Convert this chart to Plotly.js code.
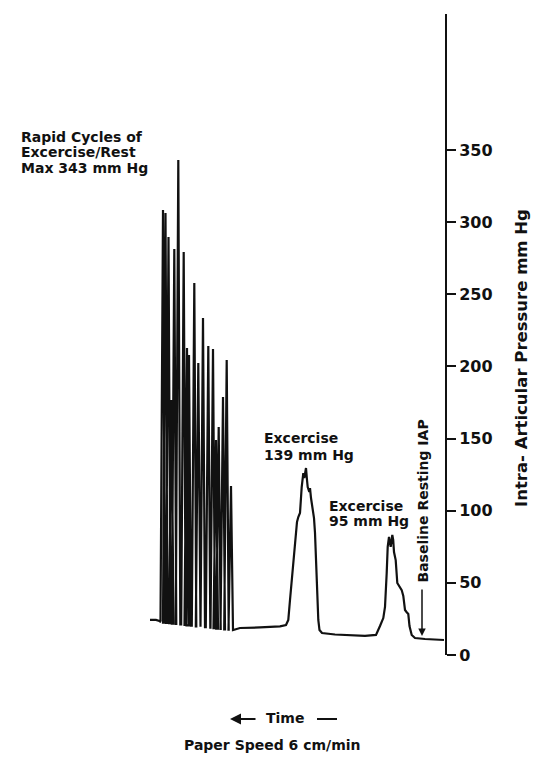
<!DOCTYPE html>
<html><head><meta charset="utf-8">
<script src="https://cdn.plot.ly/plotly-3.0.1.min.js"></script>
<style>html,body{margin:0;padding:0;background:#fff}#chart{width:541px;height:758px}</style>
</head><body><div id="chart"></div>
<script>
// Time axis in chart units (paper distance), 0 = right end (most recent), runs leftwards ("← Time")
// Pressure in mm Hg
const preTime = [295, 289, 284];
const prePressure = [24.3, 24.3, 23.2];

// Rapid cycles of exercise/rest: peak time, peak pressure, pressure it falls back to
const spikeTime   = [282, 279.5, 276.5, 273.5, 270.7, 266.7, 261.3, 258, 256, 250.7, 246.7, 242, 236.7, 232, 229, 226.3, 222, 218.3, 214];
const spikePeak   = [308.4, 306.3, 289.7, 176.7, 281.4, 343, 279.3, 212.8, 207.9, 257.8, 202.4, 233.6, 214.2, 212.1, 149.0, 158.0, 178.8, 204.5, 117.1];
const spikeTrough = [22.5, 22.3, 22.0, 21.8, 21.5, 21.2, 20.8, 20.5, 20.3, 19.9, 19.6, 19.3, 18.9, 18.6, 18.3, 18.1, 17.8, 17.6, 17.3];

// Two exercise bouts and resting baseline
const postTime = [210, 205, 185, 165, 159, 156.7, 155, 153.3, 151.5, 150, 148, 146.7, 145, 143.3, 141.7, 140.7, 140, 139, 138, 137.3, 135.7, 135, 134, 132.3, 131, 130, 129, 127.7, 126.7, 125.5, 123, 110, 95, 80, 69, 66.5, 65, 61.7, 61, 60, 58.3, 57.3, 56, 54.3, 52.7, 51.8, 51, 49.3, 47.7, 45, 43.3, 41.7, 40, 38.5, 36.7, 35.5, 33.3, 30, 20, 1];
const postPressure = [17.7, 18.7, 19.1, 19.8, 20.8, 24.3, 38.1, 52.0, 69.3, 81.8, 92.2, 95.6, 98.4, 116.4, 126.1, 122.7, 126.8, 129.6, 121.3, 116.4, 113.0, 115.7, 108.8, 101.9, 94.9, 84.6, 61.0, 40.2, 24.3, 17.3, 15.2, 14.2, 13.5, 13.2, 13.9, 17.3, 20.1, 25.6, 28.4, 33.3, 56.8, 74.9, 81.8, 74.9, 83.2, 79.7, 71.4, 65.8, 49.9, 46.4, 45.0, 40.9, 31.2, 29.8, 28.4, 20.1, 13.9, 11.8, 11.1, 10.4];

const yTickValues = [0, 50, 100, 150, 200, 250, 300, 350];

// build the continuous recording
const t = [], p = [];
preTime.forEach((v, i) => { t.push(v); p.push(prePressure[i]); });
spikeTime.forEach((v, i) => {
  t.push(v + 2.5); p.push(i ? spikeTrough[i - 1] : prePressure[prePressure.length - 1]);
  t.push(v);       p.push(spikePeak[i]);
  t.push(v - 2);   p.push(spikeTrough[i]);
});
postTime.forEach((v, i) => { t.push(v); p.push(postPressure[i]); });

const INK = '#111';
const FONT = {family: 'DejaVu Sans, sans-serif', size: 14, color: INK, weight: 700};
// page-pixel helpers for text placement (plot area: x 0..445, y 14..655)
const PX = x => x / 445;
const PY = y => (655 - y) / 641;
const txt = (text, x, y, extra) => Object.assign({
  text, xref: 'paper', yref: 'paper', x: PX(x), y: PY(y), showarrow: false,
  font: FONT, xanchor: 'left', yanchor: 'middle'
}, extra || {});

const annotations = [
  txt('Rapid Cycles of', 19, 137),
  txt('Excercise/Rest', 19, 152.5),
  txt('Max 343 mm Hg', 19, 168.5),
  txt('Excercise', 262, 437.5),
  txt('139 mm Hg', 262, 454.7),
  txt('Excercise', 326.5, 505.5),
  txt('95 mm Hg', 326.5, 521.3),
  txt('Baseline Resting IAP', 422.5, 501, {textangle: -90, xanchor: 'center'}),
  {text: '', xref: 'paper', yref: 'paper', x: PX(422), y: PY(636), ax: 0, ay: -48,
   showarrow: true, arrowhead: 2, arrowsize: 1, arrowwidth: 1.5, arrowcolor: INK},
  txt('Intra- Articular Pressure mm Hg', 521, 358, {textangle: -90, xanchor: 'center', font: Object.assign({}, FONT, {size: 16.5})}),
  txt('Time', 285, 718, {xanchor: 'center'}),
  {text: '', xref: 'paper', yref: 'paper', x: PX(230), y: PY(719), ax: 27, ay: 0,
   showarrow: true, arrowhead: 2, arrowsize: 1.1, arrowwidth: 2, arrowcolor: INK},
  txt('Paper Speed 6 cm/min', 272, 745, {xanchor: 'center'})
];

const trace = {
  type: 'scatter', mode: 'lines', x: t, y: p,
  line: {color: INK, width: 2.2}, hoverinfo: 'skip'
};

const layout = {
  width: 541, height: 758,
  margin: {l: 0, r: 96, t: 14, b: 103, pad: 0},
  paper_bgcolor: '#fff', plot_bgcolor: '#fff',
  showlegend: false,
  xaxis: {range: [445, 0], visible: false, fixedrange: true},
  yaxis: {
    side: 'right', range: [0, 444.26], fixedrange: true,
    showline: true, linewidth: 2, linecolor: INK,
    ticks: 'outside', ticklen: 9, tickwidth: 2, tickcolor: INK,
    tickvals: yTickValues, ticktext: yTickValues.map(String),
    tickfont: Object.assign({}, FONT, {size: 16}),
    showgrid: false, zeroline: false, automargin: false
  },
  annotations,
  shapes: [{type: 'line', xref: 'paper', yref: 'paper', x0: PX(317), x1: PX(337),
            y0: PY(719), y1: PY(719), line: {color: INK, width: 2}}]
};

Plotly.newPlot('chart', [trace], layout, {displayModeBar: false, staticPlot: true});
</script>
</body></html>
